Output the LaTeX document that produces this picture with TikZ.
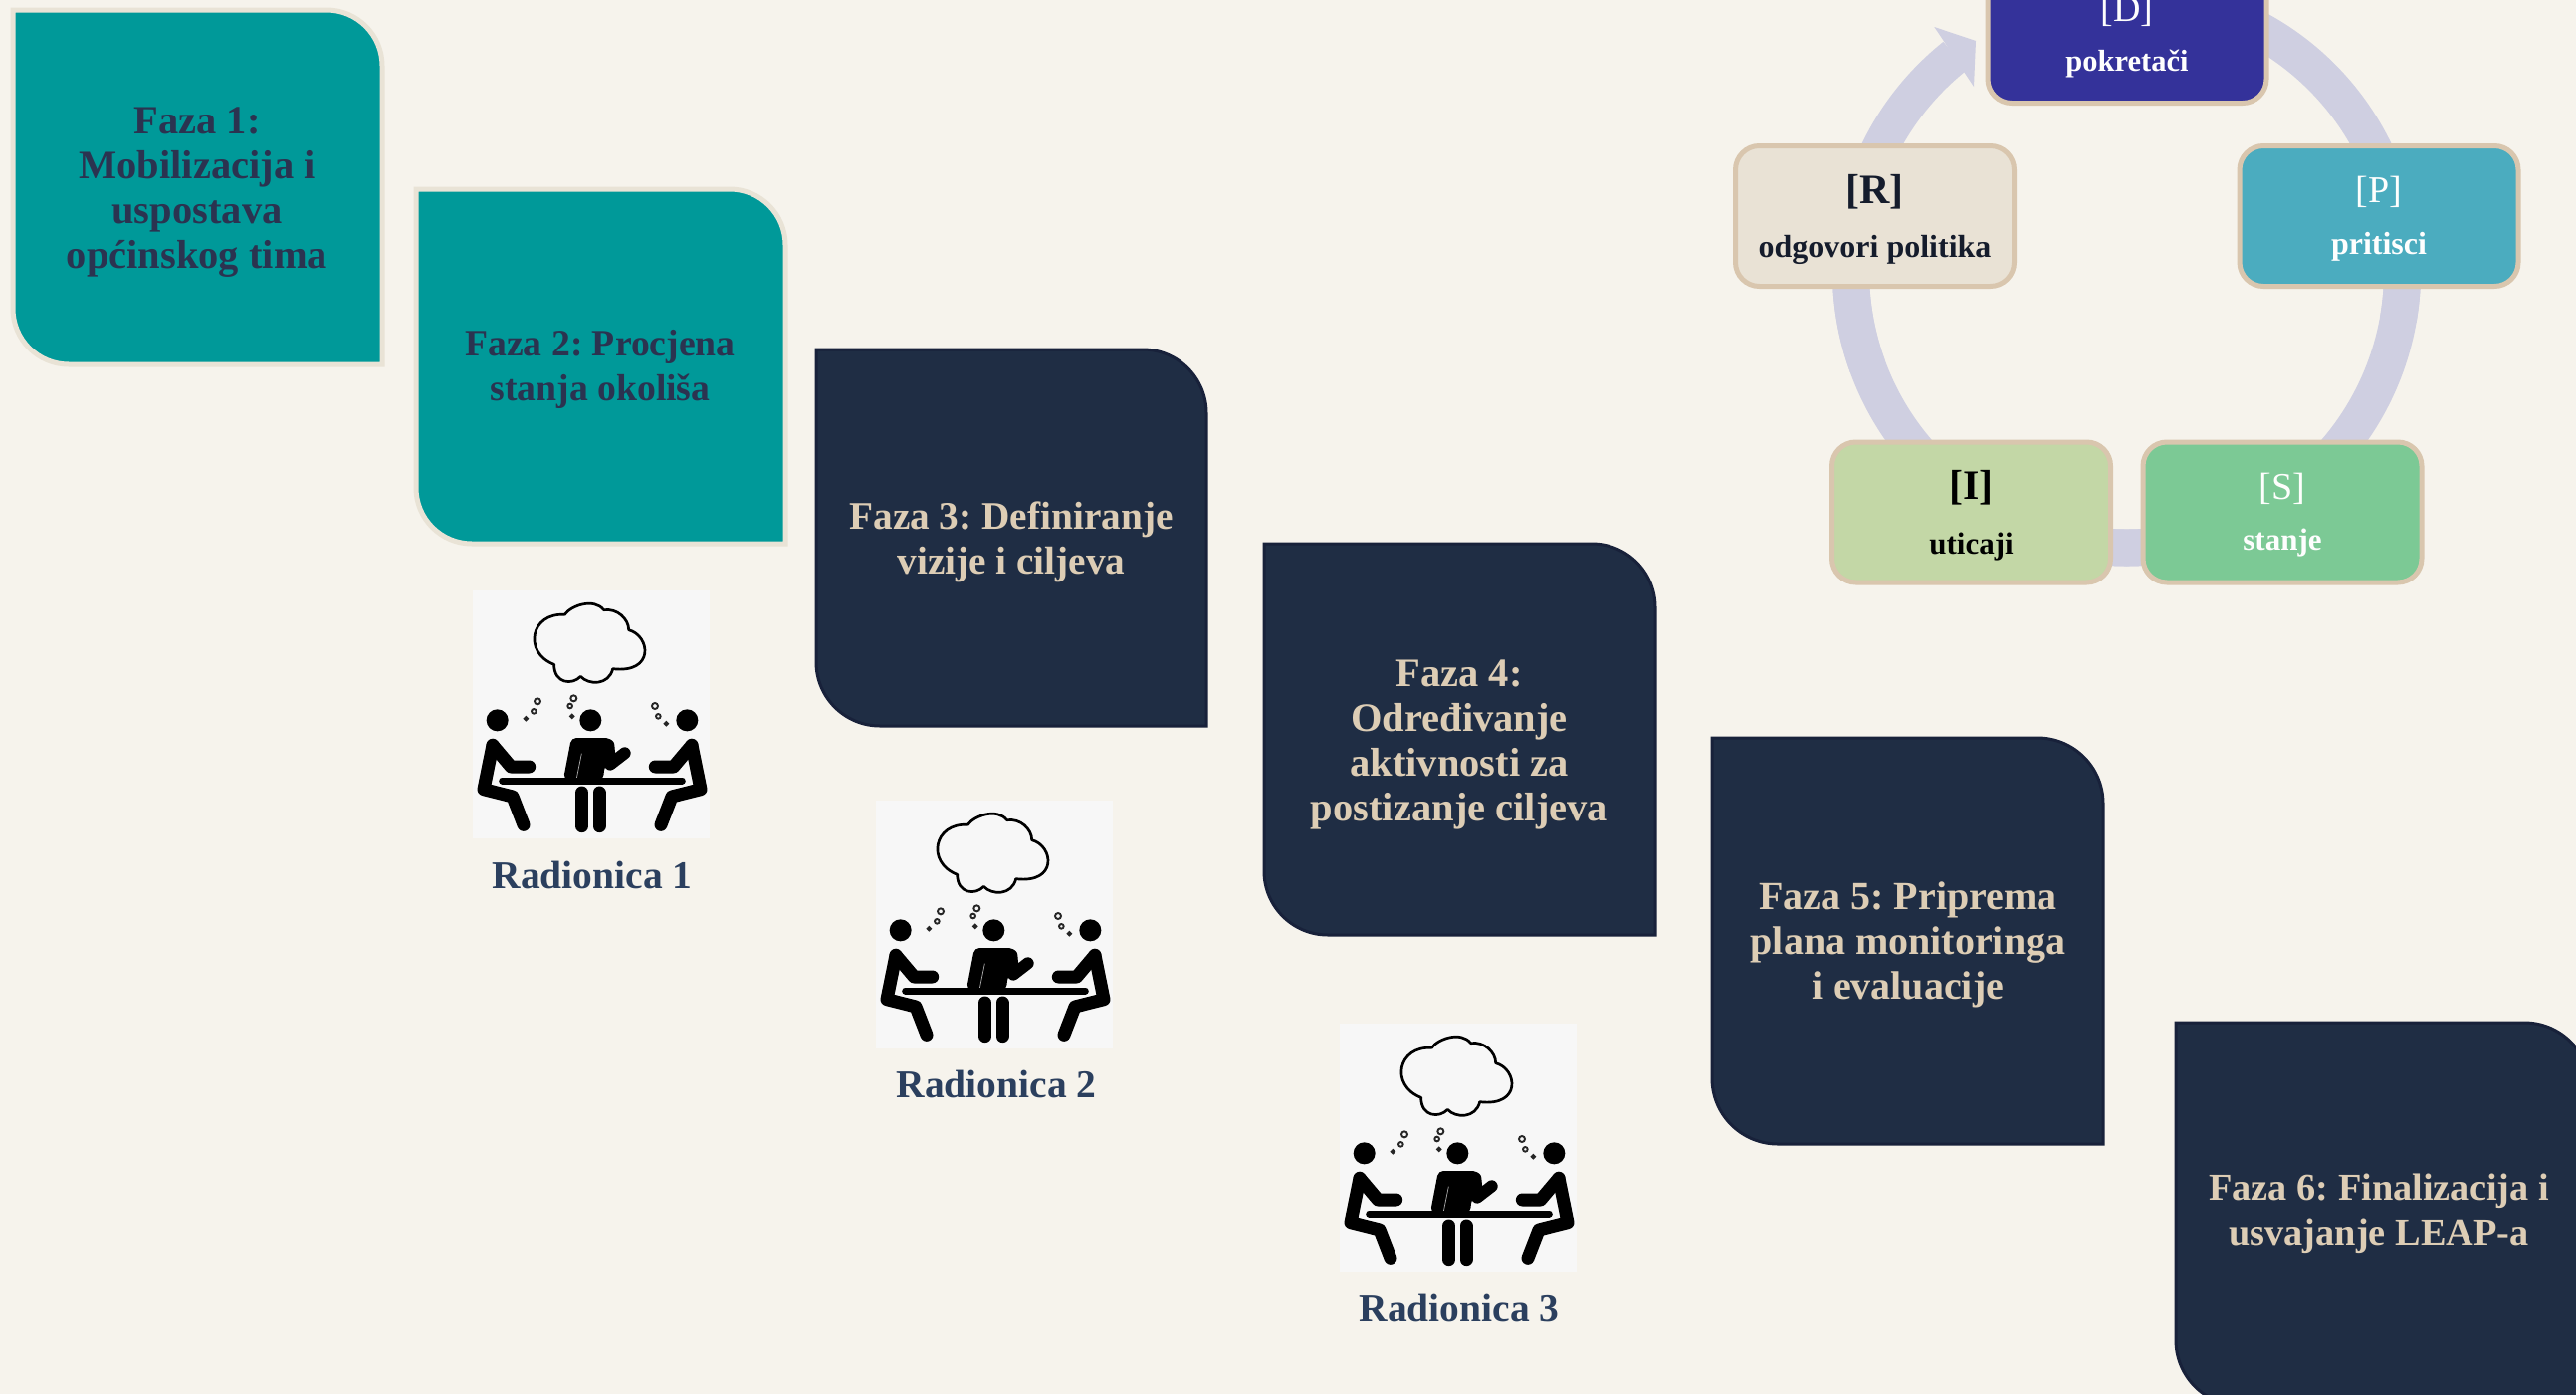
\documentclass[tikz,border=0pt]{standalone}
\usepackage{fontspec}
\setmainfont{Liberation Serif}
\frenchspacing
\definecolor{paper}{HTML}{F6F3EC}
\definecolor{tealbox}{HTML}{009999}
\definecolor{tealedge}{HTML}{E9E3D6}
\definecolor{tealtext}{HTML}{2B3350}
\definecolor{navybox}{HTML}{1F2D44}
\definecolor{navyedge}{HTML}{18213A}
\definecolor{sandtext}{HTML}{DDCDB5}
\definecolor{labeltext}{HTML}{2B3F5E}
\definecolor{ringband}{HTML}{CFCFE1}
\definecolor{cycleedge}{HTML}{D9C6AE}
\definecolor{tile}{HTML}{F7F7F7}
\definecolor{inkdark}{HTML}{151C2C}
\definecolor{cycD}{HTML}{34329A}
\definecolor{cycP}{HTML}{4BACBF}
\definecolor{cycS}{HTML}{7CC995}
\definecolor{cycI}{HTML}{C3D7A6}
\definecolor{cycR}{HTML}{E9E2D5}
\newcommand{\phasebox}[6]{% style, x1, y1, x2, y2, radius
  \draw[#1] (#2,#3) -- ({#4-#6},#3) arc[start angle=-90,end angle=0,radius=#6 pt]
    -- (#4,#5) -- ({#2+#6},#5) arc[start angle=90,end angle=180,radius=#6 pt] -- cycle;}
\tikzset{
  tealshape/.style={fill=tealbox,draw=tealedge,line width=5pt},
  navyshape/.style={fill=navybox,draw=navyedge,line width=3pt},
  phasetext/.style={align=center,font=\fontsize{#1}{45}\selectfont\bfseries,inner sep=0pt},
  tealtextstyle/.style={phasetext=#1,text=tealtext},
  navytextstyle/.style={phasetext=#1,text=sandtext},
  wslabel/.style={font=\fontsize{39.5}{45}\selectfont\bfseries,text=labeltext,inner sep=0pt},
  cyclebox/.style={draw=cycleedge,line width=5pt,rounded corners=24pt,minimum width=280pt,minimum height=141pt,inner sep=0pt},
  cyclehead/.style={font=\fontsize{38}{46}\selectfont,inner sep=0pt},
  cycleheadb/.style={font=\fontsize{42}{46}\selectfont\bfseries,inner sep=0pt},
  cyclesub/.style={font=\fontsize{#1}{36}\selectfont\bfseries,inner sep=0pt},
  band/.style={draw=ringband,line width=37pt},
  workshop/.pic={
    \begin{scope}[xscale=1/3,yscale=-1/3]
      \fill[tile] (75,40) rectangle (790,785);
      \draw[black,line width=2.7pt,line join=round]
        (352,112) .. controls (370,85) and (440,60) .. (470,98)
        .. controls (510,92) and (545,125) .. (545,158)
        .. controls (610,175) and (625,290) .. (497,275)
        .. controls (485,325) and (425,325) .. (400,298)
        .. controls (375,325) and (320,320) .. (320,262)
        .. controls (225,225) and (250,105) .. cycle;
      \foreach \cx/\cy/\cr in {270/373/9,259/403/7,235/425/5,379/364/9,368/387/7,374/418/5,624/387/9,634/418/7,658/440/5}
        \draw[black!85,line width=1.9pt] (\cx,\cy) circle[radius=\cr pt];
      \foreach \cx in {149,430,721}
        \fill[black] (\cx,430) circle[radius=33pt];
      \draw[black,line width=13pt,line cap=round,line join=round]
        (135,505) -- (108,638) -- (195,660) -- (228,745);
      \draw[black,line width=13pt,line cap=round,line join=round]
        (135,505) -- (190,570) -- (245,570);
      \draw[black,line width=13pt,line cap=round,line join=round]
        (735,505) -- (762,638) -- (675,660) -- (642,745);
      \draw[black,line width=13pt,line cap=round,line join=round]
        (735,505) -- (680,570) -- (625,570);
      \fill[black,rounded corners=5pt] (372,483) -- (492,483) -- (505,520) -- (470,575) -- (470,608) -- (348,608) -- cycle;
      \draw[black,line width=12pt,line cap=round,line join=round]
        (484,505) -- (489,563) -- (533,529);
      \draw[tile!70!black,line width=0.7pt] (403,530) -- (388,604);
      \draw[black,line width=7pt,line cap=round] (164,612) -- (706,612);
      \draw[black,line width=13pt,line cap=round] (404,648) -- (404,749);
      \draw[black,line width=13pt,line cap=round] (456,648) -- (456,749);
    \end{scope}
  }
}
\begin{document}
\begin{tikzpicture}[x=1pt,y=1pt,yscale=-1]
  \useasboundingbox (0,0) rectangle (2588,1400);
  \fill[paper] (0,0) rectangle (2588,1400);

  % phase boxes
  \phasebox{tealshape}{13}{10}{384}{366}{56}
  \node[tealtextstyle=40.5] (f1) at (198,193) {Faza 1:\\Mobilizacija i\\uspostava\\općinskog tima};
  \phasebox{tealshape}{418}{190}{789}{546}{56}
  \node[tealtextstyle=37.7] (f2) at (603,371) {Faza 2: Procjena\\stanja okoliša};
  \phasebox{navyshape}{820}{351}{1212}{729}{64}
  \node[navytextstyle=39.3] (f3) at (1016,544) {Faza 3: Definiranje\\vizije i ciljeva};
  \phasebox{navyshape}{1270}{546}{1663}{939}{64}
  \node[navytextstyle=40.5] (f4) at (1466,748) {Faza 4:\\Određivanje\\aktivnosti za\\postizanje ciljeva};
  \phasebox{navyshape}{1720}{741}{2113}{1149}{66}
  \node[navytextstyle=40] (f5) at (1917,949) {Faza 5: Priprema\\plana monitoringa\\i evaluacije};
  \phasebox{navyshape}{2186}{1027}{2602}{1412}{66}
  \node[navytextstyle=38.3] (f6) at (2390,1219) {Faza 6: Finalizacija i\\usvajanje LEAP-a};

  % workshops
  \pic at (450,580) {workshop};
  \node[wslabel] (w1) at (595,879) {Radionica 1};
  \pic at (855,791) {workshop};
  \node[wslabel] (w2) at (1001,1089) {Radionica 2};
  \pic at (1321,1015) {workshop};
  \node[wslabel] (w3) at (1466,1314) {Radionica 3};

  % cycle ring
  \coordinate (ringc) at (2136.5,273);
  \coordinate (rD) at ([shift={(-65:277pt)}]ringc);
  \coordinate (rP) at ([shift={(-20:277pt)}]ringc);
  \coordinate (rS) at ([shift={(50:277pt)}]ringc);
  \coordinate (rI) at ([shift={(80:277pt)}]ringc);
  \coordinate (rR) at ([shift={(160:277pt)}]ringc);
  \draw[band] (rD) arc[start angle=-65,end angle=10,radius=277pt];
  \draw[band] (rP) arc[start angle=-20,end angle=55,radius=277pt];
  \draw[band] (rS) arc[start angle=50,end angle=130,radius=277pt];
  \draw[band] (rI) arc[start angle=80,end angle=190,radius=277pt];
  \draw[band] (rR) arc[start angle=160,end angle=231.5,radius=277pt];
  \coordinate (hOut) at (1943.3,27);
  \coordinate (hTip) at (1985,41);
  \coordinate (hIn) at (1983,87);
  \coordinate (nIn) at (1973,72);
  \coordinate (nOut) at (1954,43);
  \fill[ringband] (hOut) -- (hTip) -- (hIn) -- (nIn) -- (nOut) -- cycle;

  % cycle boxes
  \node[cyclebox,fill=cycD] (bD) at (2137,33) {};
  \node[cyclebox,fill=cycP] (bP) at (2390,217) {};
  \node[cyclebox,fill=cycS] (bS) at (2293,514.5) {};
  \node[cyclebox,fill=cycI] (bI) at (1980.5,514.5) {};
  \node[cyclebox,fill=cycR] (bR) at (1883.5,217) {};

  \node[cyclehead,text=white!90!paper] (tD) at (2137,11) {[D]};
  \node[cyclesub=30.5,text=white!95!paper] (sD) at (2137,64) {pokretači};
  \node[cyclehead,text=white!90!paper] (tP) at (2390,193) {[P]};
  \node[cyclesub=32,text=white!95!paper] (sP) at (2390,248) {pritisci};
  \node[cyclehead,text=white!90!paper] (tS) at (2293,491) {[S]};
  \node[cyclesub=31,text=white!95!paper] (sS) at (2293,545) {stanje};
  \node[cycleheadb,text=black] (tI) at (1980.5,490) {[I]};
  \node[cyclesub=31,text=black] (sI) at (1980.5,549) {uticaji};
  \node[cycleheadb,text=inkdark] (tR) at (1883.5,193) {[R]};
  \node[cyclesub=32,text=inkdark] (sR) at (1883.5,251) {odgovori politika};
\end{tikzpicture}
\end{document}
